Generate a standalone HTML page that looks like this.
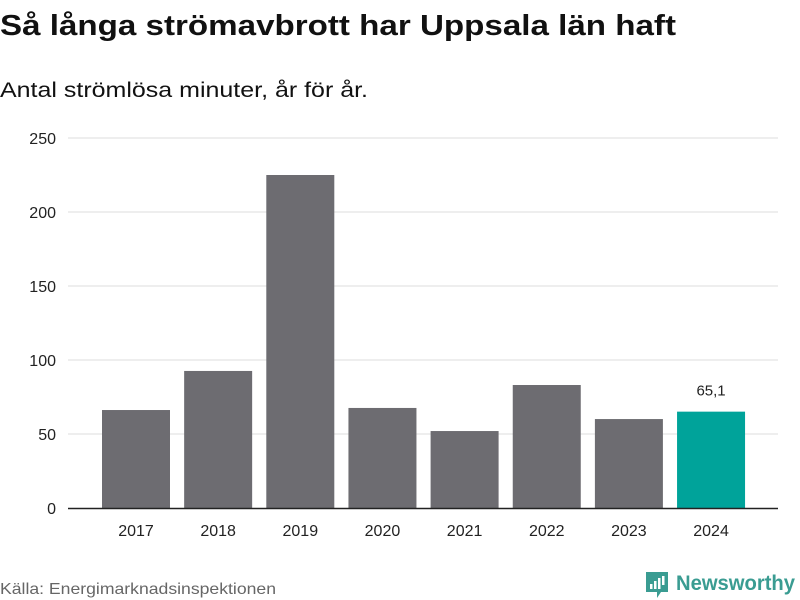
<!DOCTYPE html>
<html><head><meta charset="utf-8"><style>
body{margin:0;background:#fff;}
svg{display:block;font-family:"Liberation Sans",sans-serif;}
</style></head><body>
<svg id="c" width="800" height="600">
<text x="0" y="35" font-size="29" font-weight="bold" fill="#111" textLength="676" lengthAdjust="spacingAndGlyphs">Så långa strömavbrott har Uppsala län haft</text>
<text x="0" y="97" font-size="21" fill="#111" textLength="368" lengthAdjust="spacingAndGlyphs">Antal strömlösa minuter, år för år.</text>
<g id="grid"></g><g id="bars"></g><g id="labels"></g>
<text x="0" y="594" font-size="16" fill="#666" textLength="276" lengthAdjust="spacingAndGlyphs">Källa: Energimarknadsinspektionen</text>
<g>
<path d="M646 572 h22 v20 h-7 l-4 6 v-6 h-11 z" fill="#3a9c92"/>
<rect x="650" y="584" width="2.5" height="5" fill="#fff"/><rect x="654" y="581" width="2.5" height="8" fill="#fff"/><rect x="658" y="578" width="2.5" height="11" fill="#fff"/><rect x="662" y="576" width="2.5" height="9" fill="#fff"/>
<text x="676" y="590" font-size="21" font-weight="bold" fill="#3a9c92" textLength="119" lengthAdjust="spacingAndGlyphs">Newsworthy</text>
</g>
</svg>
<script>
const categories=["2017","2018","2019","2020","2021","2022","2023","2024"];
const values=[66.2,92.6,225,67.6,52,83.1,60.1,65.1];
const yTicks=[0,50,100,150,200,250];
const highlightLabel="65,1";
const NS="http://www.w3.org/2000/svg";
const y=v=>508-v*1.48, x=i=>102+i*82.15;
function mk(t,a,p){const e=document.createElementNS(NS,t);for(const k in a)e.setAttribute(k,a[k]);p.appendChild(e);return e;}
const g=document.getElementById('grid'),b=document.getElementById('bars'),l=document.getElementById('labels');
yTicks.forEach(v=>{
 if(v>0){const ln=mk('line',{x1:68,x2:778,y1:y(v),y2:y(v),stroke:'#ddd','stroke-width':1},g);
 
 }
 const t=mk('text',{x:56,y:y(v)+6,'font-size':16,fill:'#222','text-anchor':'end'},g);t.textContent=v;
 
 
});
values.forEach((v,i)=>{
 const last=i===values.length-1;
 const r=mk('rect',{x:x(i),y:y(v),width:68,height:508-y(v),fill:last?'#00a39a':'#6d6c71'},b);
 
 
 const t=mk('text',{x:x(i)+34,y:536,'font-size':16,fill:'#222','text-anchor':'middle'},l);t.textContent=categories[i];
 
 
 if(last){const vl=mk('text',{x:x(i)+34,y:y(v)-16,'font-size':15,fill:'#222','text-anchor':'middle'},l);vl.textContent=highlightLabel;
 
 }
});
const ax=mk('line',{x1:68,x2:778,y1:508.5,y2:508.5,stroke:'#222','stroke-width':1.5},l);


</script>
</body></html>
